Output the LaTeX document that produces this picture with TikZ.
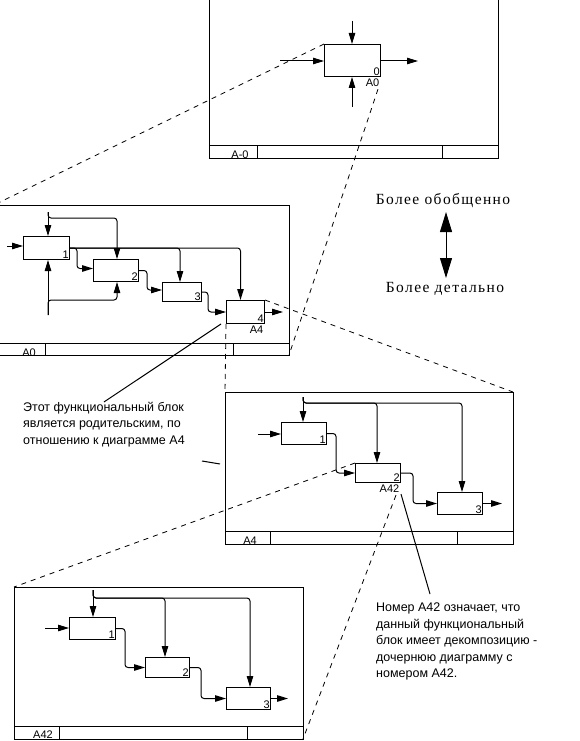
\documentclass[tikz,border=0pt]{standalone}
\usepackage{fontspec}
\setmainfont{Liberation Serif}
\newfontfamily\arialf{Liberation Sans}
\newfontfamily\serifsp[LetterSpace=9]{Liberation Serif}
\usetikzlibrary{arrows.meta,calc}
\begin{document}
\begin{tikzpicture}[x=1pt,y=-1pt,
  ln/.style={line width=1pt},
  blk/.style={draw, line width=1pt, inner sep=0pt, anchor=north west},
  arr/.style={line width=1pt, rounded corners=3pt, -{Triangle[length=11pt,width=6.5pt]}},
  dsh/.style={line width=0.8pt, dash pattern=on 5pt off 5pt},
  num/.style={font=\arialf\fontsize{11}{11}\selectfont, inner sep=1pt, anchor=south east},
  lbl/.style={font=\arialf\fontsize{11}{11}\selectfont, inner sep=1.5pt},
  txt/.style={font=\arialf\fontsize{12.5}{16.5}\selectfont, inner sep=0pt, align=left, anchor=north west},
  big/.style={font=\serifsp\fontsize{15.5}{15.5}\selectfont, inner sep=0pt, anchor=base}
]
\useasboundingbox (0,0) rectangle (580,741);
\clip (0,0) rectangle (580,741);

% ---------- frame 1 (A-0)
\coordinate (f1nw) at (209,-5); \coordinate (f1se) at (498,158);
\draw[ln] (f1nw) rectangle (f1se);
\draw[ln] (209,145) -- (498,145);
\draw[ln] (257,145) -- (257,158);
\draw[ln] (442,145) -- (442,158);
\begin{scope}
\clip (209,145) rectangle (257,158);
\node[lbl, anchor=north] (f1n) at (240,149) {A-0};
\end{scope}
\node[blk, minimum width=56pt, minimum height=32pt] (a0) at (324,44) {};
\node[num] (a0n) at (a0.south east) {0};
\node[lbl, anchor=north east] (a0l) at (a0.south east) {A0};
\coordinate (a0c) at (352,21);
\coordinate (a0i) at (280,61);
\coordinate (a0o) at (418,61);
\coordinate (a0m) at (352,107);
\draw[arr] (a0c) -- (a0c |- a0.north);
\draw[arr] (a0i) -- (a0i -| a0.west);
\draw[arr] (a0.east |- a0o) -- (a0o);
\draw[arr] (a0m) -- (a0m |- a0.south);

% ---------- frame 2 (A0)
\coordinate (f2nw) at (-6,205); \coordinate (f2se) at (289,355);
\draw[ln] (f2nw) rectangle (f2se);
\draw[ln] (-6,343) -- (289,343);
\draw[ln] (45,343) -- (45,355);
\draw[ln] (233,343) -- (233,355);
\begin{scope}
\clip (-6,343) rectangle (45,355);
\node[lbl, anchor=north] (f2n) at (29,347) {A0};
\end{scope}
\node[blk, minimum width=46pt, minimum height=23pt] (p1) at (23,236) {};
\node[blk, minimum width=45pt, minimum height=22pt] (p2) at (93,259) {};
\node[blk, minimum width=39pt, minimum height=19pt] (p3) at (162,282) {};
\node[blk, minimum width=38pt, minimum height=23pt] (p4) at (226,300) {};
\node[num] (p1n) at (p1.south east) {1};
\node[num] (p2n) at (p2.south east) {2};
\node[num] (p3n) at (p3.south east) {3};
\node[num] (p4n) at (p4.south east) {4};
\node[lbl, anchor=north east] (p4l) at (p4.south east) {A4};
\coordinate (p1i) at (7,246);
\coordinate (p1c) at (48,212);
\coordinate (p2ck) at (117,218);
\coordinate (p1m) at (48,315);
\coordinate (p2mk) at (117,300);
\coordinate (p4o) at (283,312);
\draw[arr] (p1i) -- (p1i -| p1.west);
\draw[arr] (p1c) -- (p1c |- p1.north);
\draw[arr] (p1c) |- (p2ck) -- (p2ck |- p2.north);
\draw[arr] (p1.east) -| ([xshift=-5pt]p4.north);
\draw[arr] (p1.east) -| ([xshift=-2pt]p3.north);
\draw[arr] (p1.east) -- ++(7,0) |- ([yshift=2pt]p2.west);
\draw[arr] (p1m) -- (p1m |- p1.south);
\draw[arr] (p1m) |- (p2mk) -- (p2mk |- p2.south);
\draw[arr] (p2.east) -- ++(8,0) |- ([yshift=2pt]p3.west);
\draw[arr] (p3.east) -- ++(6,0) |- (p4.west);
\draw[arr] (p4.east) -- (p4o |- p4.east);

% ---------- frame 3 (A4)
\coordinate (f3nw) at (225,392); \coordinate (f3se) at (513,544);
\coordinate (f3ne) at (513,392);
\draw[ln] (f3nw) rectangle (f3se);
\draw[ln] (225,531) -- (513,531);
\draw[ln] (270,531) -- (270,544);
\draw[ln] (457,531) -- (457,544);
\begin{scope}
\clip (225,531) rectangle (270,544);
\node[lbl, anchor=north] (f3n) at (250,535) {A4};
\end{scope}
\node[blk, minimum width=45pt, minimum height=22pt] (q1) at (281,422) {};
\node[blk, minimum width=45pt, minimum height=19pt] (q2) at (355,463) {};
\node[blk, minimum width=45pt, minimum height=22pt] (q3) at (437,492) {};
\node[num] (q1n) at (q1.south east) {1};
\node[num] (q2n) at (q2.south east) {2};
\node[num] (q3n) at (q3.south east) {3};
\node[lbl, anchor=north east] (q2l) at (q2.south east) {A42};
\coordinate (q1i) at (258,434);
\coordinate (q1c) at (303,397);
\coordinate (q2ck) at (377,403);
\coordinate (q3ck) at (462,403);
\coordinate (q3o) at (502,503);
\draw[arr] (q1i) -- (q1i -| q1.west);
\draw[arr] (q1c) -- (q1c |- q1.north);
\draw[arr] (q1c) |- (q2ck) -- (q2ck |- q2.north);
\draw[arr] (q1c) |- (q3ck) -- (q3ck |- q3.north);
\draw[arr] (q1.east) -- ++(9,0) |- (q2.west);
\draw[arr] (q2.east) -- ++(12,0) |- (q3.west);
\draw[arr] (q3.east) -- (q3o |- q3.east);

% ---------- frame 4 (A42)
\coordinate (f4nw) at (14,587); \coordinate (f4se) at (303,739);
\draw[ln] (f4nw) rectangle (f4se);
\draw[ln] (14,726) -- (303,726);
\draw[ln] (59,726) -- (59,739);
\draw[ln] (247,726) -- (247,739);
\begin{scope}
\clip (14,726) rectangle (59,739);
\node[lbl, anchor=north] (f4n) at (43,729) {A42};
\end{scope}
\node[blk, minimum width=46pt, minimum height=22pt] (r1) at (69,617) {};
\node[blk, minimum width=44pt, minimum height=20pt] (r2) at (145,657) {};
\node[blk, minimum width=44pt, minimum height=22pt] (r3) at (226,687) {};
\node[num] (r1n) at (r1.south east) {1};
\node[num] (r2n) at (r2.south east) {2};
\node[num] (r3n) at (r3.south east) {3};
\coordinate (r1i) at (45,628);
\coordinate (r1c) at (93,590);
\coordinate (r2ck) at (165,598);
\coordinate (r3ck) at (250,598);
\coordinate (r3o) at (288,698);
\draw[arr] (r1i) -- (r1i -| r1.west);
\draw[arr] (r1c) -- (r1c |- r1.north);
\draw[arr] (r1c) |- (r2ck) -- (r2ck |- r2.north);
\draw[arr] (r1c) |- (r3ck) -- (r3ck |- r3.north);
\draw[arr] (r1.east) -- ++(9,0) |- (r2.west);
\draw[arr] (r2.east) -- ++(11,0) |- (r3.west);
\draw[arr] (r3.east) -- (r3o |- r3.east);

% ---------- dashed decomposition lines
\draw[dsh] (a0.north west) -- (f2nw);
\draw[dsh] ($(a0l.south east)+(-3,1)$) -- (f2se);
\draw[dsh] (p4.north east) -- (f3ne);
\draw[dsh] (p4.south west) -- (f3nw);
\draw[dsh] (q2.north west) -- (f4nw);
\draw[dsh] ($(q2l.south east)+(-5,1)$) -- (f4se);

% ---------- texts
\node[txt] (t1) at (23,402) {Этот функциональный блок\\является родительским, по\\отношению к диаграмме A4};
\node[txt] (t2) at (376,603) {Номер A42 означает, что\\данный функциональный\\блок имеет декомпозицию -\\дочернюю диаграмму с\\номером A42.};
\node[big] (t3) at (443,204) {Более обобщенно};
\node[big] (t4) at (445,292) {Более детально};
\coordinate (u1) at (446,212);
\coordinate (u2) at (446,278);
\draw[line width=1pt, {Triangle[length=20pt,width=12pt]}-{Triangle[length=20pt,width=12pt]}] (u1) -- (u2);

% ---------- leader lines
\coordinate (l1s) at (221,324);
\draw[ln] (l1s) -- (t1.north);
\coordinate (l2e) at (430,594);
\draw[ln] (q2l.south east) -- (l2e);
\coordinate (s1) at (202,461);
\coordinate (s2) at (220,464);
\draw[ln] (s1) -- (s2);
\end{tikzpicture}
\end{document}
